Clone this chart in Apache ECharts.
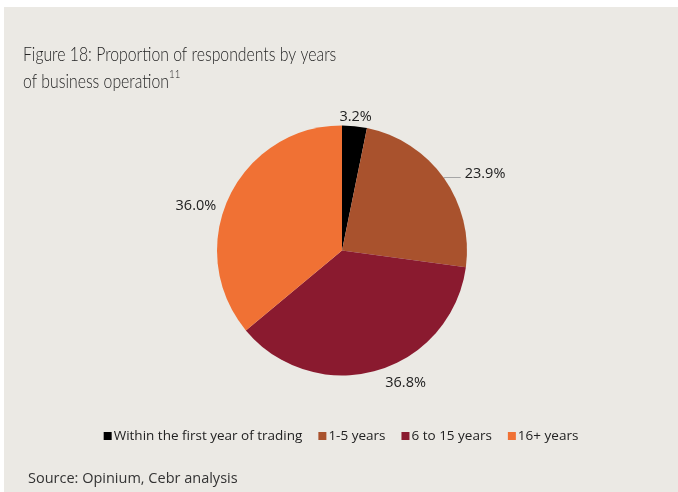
<!DOCTYPE html>
<html>
<head>
<meta charset="utf-8">
<script src="https://cdn.jsdelivr.net/npm/echarts@6/dist/echarts.min.js"></script>
<style>
  html, body { margin: 0; padding: 0; background: #ffffff; }
  #chart { position: absolute; left: 4px; top: 7px; width: 674px; height: 485px; background: #ebe9e4; }
</style>
</head>
<body>
<div id="chart"></div>
<script>
// Years of business operation – share of respondents (%)
const categories = ['Within the first year of trading', '1-5 years', '6 to 15 years', '16+ years'];
const shares = [3.2, 23.9, 36.8, 36.0];
const colors = ['#000000', '#a9522d', '#8a1a2f', '#f07134'];

// Per-slice label tweaks (leader line only on the 1-5 years slice)
const labelTweaks = [
  { line: false, length: 9, length2: 2, offset: [-22, 0] },
  { line: true, length: 1, length2: 16, offset: [0, -4] },
  { line: false, length: 10, length2: 2, offset: [0, 3] },
  { line: false, length: 4, length2: 2, offset: [-3, 10] }
];

const chart = echarts.init(document.getElementById('chart'), null, { renderer: 'canvas' });

const data = categories.map((name, i) => ({
  name,
  value: shares[i],
  itemStyle: { color: colors[i] },
  label: { offset: labelTweaks[i].offset },
  labelLine: {
    show: labelTweaks[i].line,
    length: labelTweaks[i].length,
    length2: labelTweaks[i].length2
  }
}));

chart.setOption({
  backgroundColor: '#ebe9e4',
  animation: false,
  legend: {
    top: 417,
    left: 'center',
    icon: 'rect',
    itemWidth: 8,
    itemHeight: 8,
    itemGap: 16,
    selectedMode: false,
    textStyle: { fontFamily: 'Open Sans', fontSize: 13.5, color: '#222222', padding: [0, 0, 0, -3] },
    data: categories
  },
  graphic: [
    {
      type: 'text',
      left: 19,
      top: 34,
      scaleX: 0.81,
      style: {
        text: 'Figure 18: Proportion of respondents by years\nof business operation{sup|11}',
        fontFamily: 'Lato',
        fontWeight: 300,
        fontSize: 19.5,
        lineHeight: 27,
        fill: '#262626',
        rich: {
          sup: { fontFamily: 'Lato', fontWeight: 300, fontSize: 12, verticalAlign: 'top', padding: [0, 0, 4, 0], fill: '#262626' }
        }
      }
    },
    {
      type: 'text',
      left: 24,
      top: 464,
      style: { text: 'Source: Opinium, Cebr analysis', fontFamily: 'Open Sans', fontSize: 14.5, fill: '#333333' }
    }
  ],
  series: [{
    type: 'pie',
    center: [338, 243.5],
    radius: 125,
    startAngle: 90,
    clockwise: true,
    data,
    label: {
      show: true,
      position: 'outside',
      formatter: p => p.value.toFixed(1) + '%',
      fontFamily: 'Open Sans',
      fontSize: 14.5,
      color: '#222222',
      distanceToLabelLine: 4
    },
    labelLine: {
      lineStyle: { color: '#a6a6a6', width: 1.2 }
    },
    emphasis: { disabled: true }
  }]
});
</script>
</body>
</html>
